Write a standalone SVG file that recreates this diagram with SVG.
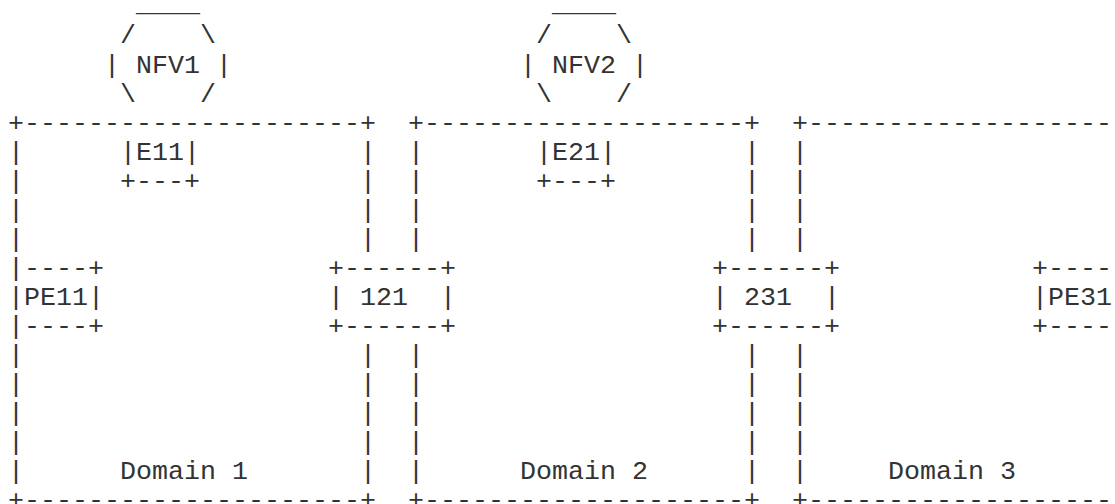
<svg xmlns="http://www.w3.org/2000/svg" width="1115" height="504" viewBox="0 0 1115 504">
<style>
text { font-family: "Liberation Mono", "Courier New", monospace; font-size: 26.67px; fill: #333; white-space: pre; }
</style>
<rect width="1115" height="504" fill="#fff"/>
<g id="connectors"></g>
<g id="nfv1">
  <text x="136" y="11">____</text>
  <text x="120" y="43.46">/    \</text>
  <text x="104" y="72.52">| NFV1 |</text>
  <text x="120" y="101.58">\    /</text>
</g>
<g id="nfv2">
  <text x="552" y="11">____</text>
  <text x="536" y="43.46">/    \</text>
  <text x="520" y="72.52">| NFV2 |</text>
  <text x="536" y="101.58">\    /</text>
</g>
<g id="domain1">
  <text x="8" y="130.64">+---------------------+</text>
  <text x="8" y="508.42">+---------------------+</text>
  <text><tspan x="8" y="159.7">|</tspan><tspan x="8" y="188.76">|</tspan><tspan x="8" y="217.82">|</tspan><tspan x="8" y="246.88">|</tspan><tspan x="8" y="275.94">|</tspan><tspan x="8" y="305">|</tspan><tspan x="8" y="334.06">|</tspan><tspan x="8" y="363.12">|</tspan><tspan x="8" y="392.18">|</tspan><tspan x="8" y="421.24">|</tspan><tspan x="8" y="450.3">|</tspan><tspan x="8" y="479.36">|</tspan></text>
  <text><tspan x="360" y="159.7">|</tspan><tspan x="360" y="188.76">|</tspan><tspan x="360" y="217.82">|</tspan><tspan x="360" y="246.88">|</tspan><tspan x="360" y="363.12">|</tspan><tspan x="360" y="392.18">|</tspan><tspan x="360" y="421.24">|</tspan><tspan x="360" y="450.3">|</tspan><tspan x="360" y="479.36">|</tspan></text>
  <text x="120" y="479.36">Domain 1</text>
</g>
<g id="domain2">
  <text x="408" y="130.64">+--------------------+</text>
  <text x="408" y="508.42">+--------------------+</text>
  <text><tspan x="408" y="159.7">|</tspan><tspan x="408" y="188.76">|</tspan><tspan x="408" y="217.82">|</tspan><tspan x="408" y="246.88">|</tspan><tspan x="408" y="363.12">|</tspan><tspan x="408" y="392.18">|</tspan><tspan x="408" y="421.24">|</tspan><tspan x="408" y="450.3">|</tspan><tspan x="408" y="479.36">|</tspan></text>
  <text><tspan x="744" y="159.7">|</tspan><tspan x="744" y="188.76">|</tspan><tspan x="744" y="217.82">|</tspan><tspan x="744" y="246.88">|</tspan><tspan x="744" y="363.12">|</tspan><tspan x="744" y="392.18">|</tspan><tspan x="744" y="421.24">|</tspan><tspan x="744" y="450.3">|</tspan><tspan x="744" y="479.36">|</tspan></text>
  <text x="520" y="479.36">Domain 2</text>
</g>
<g id="domain3">
  <text x="792" y="130.64">+---------------------</text>
  <text x="792" y="508.42">+---------------------</text>
  <text><tspan x="792" y="159.7">|</tspan><tspan x="792" y="188.76">|</tspan><tspan x="792" y="217.82">|</tspan><tspan x="792" y="246.88">|</tspan><tspan x="792" y="363.12">|</tspan><tspan x="792" y="392.18">|</tspan><tspan x="792" y="421.24">|</tspan><tspan x="792" y="450.3">|</tspan><tspan x="792" y="479.36">|</tspan></text>
  <text x="888" y="479.36">Domain 3</text>
</g>
<g id="e11">
  <text x="120" y="159.7">|E11|</text>
  <text x="120" y="188.76">+---+</text>
</g>
<g id="e21">
  <text x="536" y="159.7">|E21|</text>
  <text x="536" y="188.76">+---+</text>
</g>
<g id="pe11">
  <text x="24" y="275.94">----+</text>
  <text x="24" y="305">PE11|</text>
  <text x="24" y="334.06">----+</text>
</g>
<g id="node121">
  <text x="328" y="275.94">+------+</text>
  <text x="328" y="305">| 121  |</text>
  <text x="328" y="334.06">+------+</text>
</g>
<g id="node231">
  <text x="712" y="275.94">+------+</text>
  <text x="712" y="305">| 231  |</text>
  <text x="712" y="334.06">+------+</text>
</g>
<g id="pe31">
  <text x="1032" y="275.94">+----</text>
  <text x="1032" y="305">|PE31</text>
  <text x="1032" y="334.06">+----</text>
</g>
</svg>
